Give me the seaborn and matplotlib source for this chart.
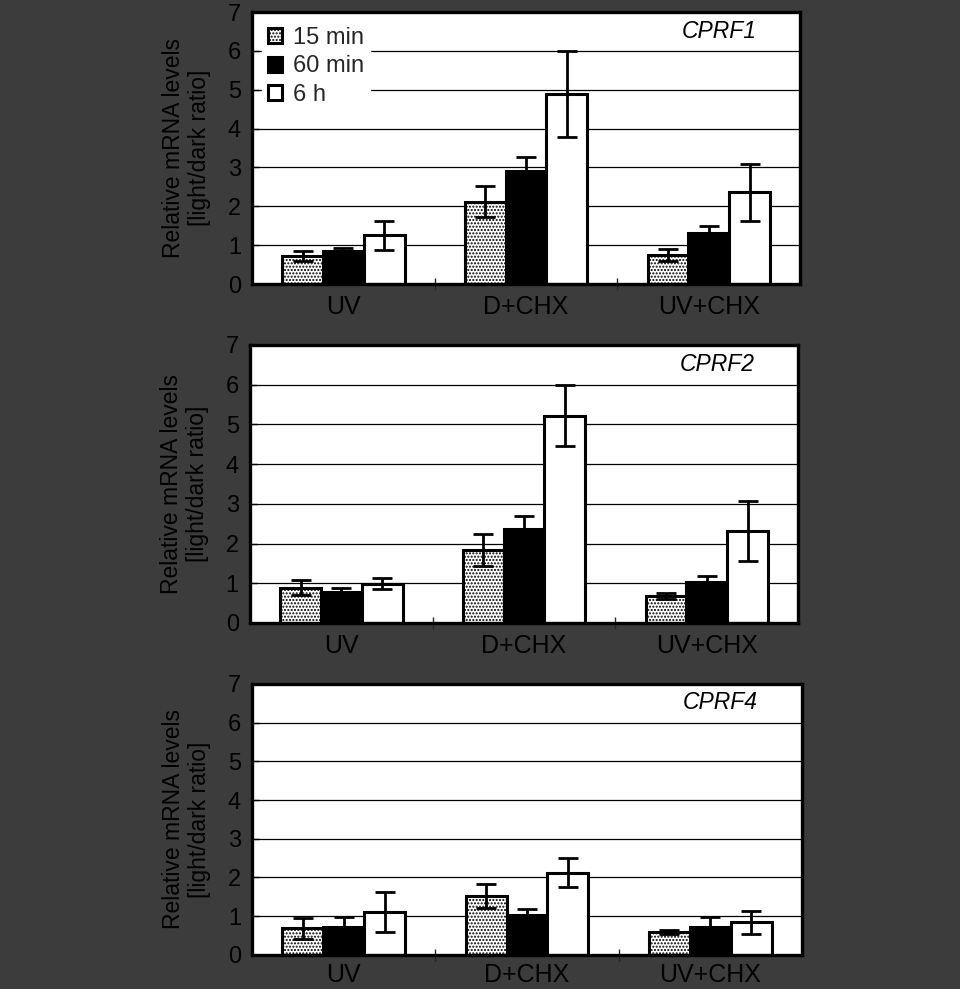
import numpy as np
import pandas as pd
import matplotlib
matplotlib.use("Agg")
import matplotlib.pyplot as plt
import seaborn as sns

# ------------------ Data ------------------
conditions = ["UV", "D+CHX", "UV+CHX"]
times = ["15 min", "60 min", "6 h"]
genes = ["CPRF1", "CPRF2", "CPRF4"]

# rows = time point, columns = condition
cprf1_mean = [[0.72, 2.12, 0.75], [0.84, 2.91, 1.32], [1.25, 4.90, 2.36]]
cprf1_err = [[0.12, 0.40, 0.15], [0.08, 0.36, 0.17], [0.37, 1.11, 0.73]]

cprf2_mean = [[0.89, 1.84, 0.68], [0.78, 2.36, 1.04], [0.99, 5.22, 2.31]]
cprf2_err = [[0.18, 0.40, 0.08], [0.10, 0.34, 0.15], [0.14, 0.76, 0.75]]

cprf4_mean = [[0.69, 1.52, 0.59], [0.73, 1.03, 0.73], [1.10, 2.12, 0.84]]
cprf4_err = [[0.27, 0.32, 0.05], [0.24, 0.16, 0.24], [0.52, 0.37, 0.29]]

means = [cprf1_mean, cprf2_mean, cprf4_mean]
errs = [cprf1_err, cprf2_err, cprf4_err]

# ------------------ Style ------------------
sns.set_style("white")
plt.rcParams['font.family'] = ['Liberation Sans', 'DejaVu Sans']
plt.rcParams['hatch.linewidth'] = 1.0
plt.rcParams['hatch.color'] = 'black'

bg = '#3c3c3c'
fig = plt.figure(figsize=(9.6, 9.89), dpi=100, facecolor=bg)

positions = [
    [0.2625, 0.7128, 0.5710, 0.2750],
    [0.2604, 0.3701, 0.5710, 0.2811],
    [0.2625, 0.0345, 0.5729, 0.2740],
]
xlabel_pads = [8, 8, 6]

for k, gene in enumerate(genes):
    ax = fig.add_axes(positions[k])
    ax.set_facecolor('white')

    df = pd.DataFrame({
        "condition": np.repeat([conditions], 3, axis=0).ravel(),
        "time": np.repeat(times, 3),
        "value": np.ravel(means[k]),
        "err": np.ravel(errs[k]),
    })

    sns.barplot(data=df, x="condition", y="value", hue="time",
                order=conditions, hue_order=times,
                palette=['white', 'black', 'white'], saturation=1,
                width=0.67, edgecolor='black', linewidth=2.2,
                errorbar=None, legend=False, ax=ax, zorder=2)

    bar_groups = list(ax.containers)

    # stipple on the 15 min bars, then error bars on top of each bar
    for i, cont in enumerate(bar_groups):
        sub = df[df["time"] == times[i]]
        xs, ys = [], []
        for bar in cont:
            xs.append(bar.get_x() + bar.get_width() / 2)
            ys.append(bar.get_height())
            if i == 0:
                bar.set_hatch('.....')
        ax.errorbar(xs, ys, yerr=sub["err"].values, fmt='none',
                    ecolor='black', elinewidth=2.0, capsize=7,
                    capthick=2.0, zorder=4)

    ax.set_ylim(0, 7)
    ax.set_xlim(-0.5, 2.5)
    ax.set_yticks(range(8))
    ax.yaxis.grid(True, color='black', linewidth=0.9)
    ax.xaxis.grid(False)
    ax.set_axisbelow(True)

    for s in ax.spines.values():
        s.set_visible(True)
        s.set_color('black')
        s.set_linewidth(2.4)

    ax.tick_params(axis='y', direction='in', length=5, width=1, pad=8,
                   labelsize=17, colors='black', left=True)
    ax.tick_params(axis='x', which='major', length=0, pad=xlabel_pads[k],
                   labelsize=18, colors='black')
    ax.set_xticks([0.5, 1.5], minor=True)
    ax.tick_params(axis='x', which='minor', direction='inout', length=9,
                   width=1, bottom=True)

    ax.set_xlabel("")
    ax.set_ylabel("Relative mRNA levels\n[light/dark ratio]", fontsize=16.5,
                  linespacing=1.15, labelpad=12, color='black')

    ax.text(0.852, 0.93, gene, transform=ax.transAxes, fontsize=16.5,
            style='italic', ha='center', va='center', color='black')

    if k == 0:
        leg = ax.legend(handles=bar_groups, labels=times,
                        loc='upper left', bbox_to_anchor=(0.01, 0.985),
                        fontsize=17, frameon=True,
                        fancybox=False, facecolor='white', edgecolor='white',
                        framealpha=1, handlelength=0.6, handleheight=0.6,
                        handletextpad=0.45, labelspacing=0.28,
                        borderpad=0.25, borderaxespad=0.2)
        leg.set_zorder(5)

fig.savefig("out.png", dpi=100, facecolor=bg)
